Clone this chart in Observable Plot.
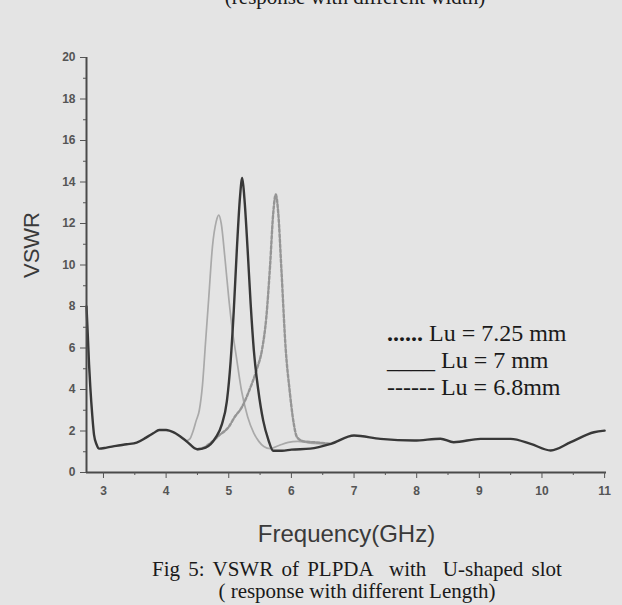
<!DOCTYPE html>
<html><head><meta charset="utf-8">
<script src="https://cdn.jsdelivr.net/npm/d3@7"></script>
<script src="https://cdn.jsdelivr.net/npm/@observablehq/plot@0.6"></script>
<style>
body{margin:0;background:#e4e4e4;}
#wrap{position:relative;width:622px;height:605px;overflow:hidden;background:#e4e4e4;}
.serif{font-family:"Liberation Serif","Times New Roman",serif;color:#1a1a1a;}
#toptitle{position:absolute;top:-13px;left:0;width:622px;padding-left:88px;box-sizing:border-box;text-align:center;font-size:21px;line-height:21px;white-space:pre;}
#legend{position:absolute;left:387px;top:320px;font-size:24px;line-height:27px;white-space:pre;}
#caption{font-size:21px;line-height:22px;text-align:center;padding-left:92px;white-space:pre;margin-top:-2px;}
#caption div:first-child{word-spacing:3px;}
#chart svg{display:block;}
</style></head>
<body>
<div id="wrap">
  <div id="toptitle" class="serif">(response with different width)</div>
  <div id="chart"></div>
  <div id="caption" class="serif"></div>
  <div id="legend" class="serif"></div>
</div>
<script>
// ---- data ----
const xLabel = "Frequency(GHz)";
const yLabel = "VSWR";
const xDomain = [2.729, 11.03];
const yDomain = [0, 20];
const xMajor = [3, 4, 5, 6, 7, 8, 9, 10, 11];
const xMinor = [3.5, 4.5, 5.5, 6.5, 7.5, 8.5, 9.5, 10.5];
const yMajor = [0, 2, 4, 6, 8, 10, 12, 14, 16, 18, 20];
const yMinor = [1, 3, 5, 7, 9, 11, 13, 15, 17, 19];

const legendLabels = ["...... Lu = 7.25 mm", "____ Lu = 7 mm", "------ Lu = 6.8mm"];
const captionLines = ["Fig 5: VSWR of PLPDA  with  U-shaped slot", "( response with different Length)"];

// Lu = 7 mm (dark solid)
const freq7 = [2.729, 2.75, 2.77, 2.79, 2.82, 2.85, 2.89, 2.93, 3.05, 3.2, 3.37, 3.53, 3.68, 3.8, 3.89, 4.0, 4.13, 4.32, 4.5, 4.63, 4.79, 4.89, 4.97, 5.03, 5.08, 5.13, 5.18, 5.215, 5.25, 5.3, 5.35, 5.4, 5.47, 5.55, 5.63, 5.71, 5.85, 6.0, 6.3, 6.63, 7.0, 7.42, 7.96, 8.38, 8.59, 9.02, 9.5, 9.82, 10.14, 10.46, 10.83, 11.0];
const vswr7 = [8.0, 6.6, 5.2, 4.1, 2.8, 1.8, 1.35, 1.15, 1.2, 1.28, 1.36, 1.44, 1.68, 1.9, 2.05, 2.05, 1.92, 1.52, 1.12, 1.2, 1.68, 2.32, 3.44, 5.36, 7.8, 10.8, 13.3, 14.2, 13.2, 10.8, 8.1, 5.9, 4.0, 2.5, 1.6, 1.05, 1.05, 1.1, 1.15, 1.38, 1.78, 1.62, 1.54, 1.63, 1.46, 1.62, 1.62, 1.38, 1.06, 1.46, 1.94, 2.02];

// Lu = 7.25 mm (light grey)
const freq725 = [4.32, 4.38, 4.42, 4.48, 4.53, 4.58, 4.63, 4.68, 4.74, 4.8, 4.84, 4.88, 4.94, 5.0, 5.06, 5.12, 5.2, 5.3, 5.4, 5.48, 5.56, 5.66, 5.8, 5.95, 6.1, 6.3, 6.63];
const vswr725 = [1.52, 1.62, 1.9, 2.5, 3.0, 4.2, 6.3, 8.4, 10.9, 12.1, 12.4, 12.0, 10.3, 8.4, 6.8, 5.6, 4.0, 2.7, 1.9, 1.5, 1.25, 1.15, 1.3, 1.45, 1.5, 1.42, 1.38];

// Lu = 6.8 mm (grey dashed)
const freq68 = [4.5, 4.6, 4.7, 4.85, 5.0, 5.1, 5.2, 5.32, 5.45, 5.53, 5.6, 5.66, 5.71, 5.75, 5.79, 5.84, 5.91, 5.97, 6.03, 6.09, 6.2, 6.4, 6.63];
const vswr68 = [1.12, 1.2, 1.4, 1.8, 2.2, 2.7, 3.1, 3.9, 5.0, 5.9, 7.5, 10.0, 12.5, 13.4, 12.5, 9.8, 5.9, 4.0, 2.5, 1.7, 1.5, 1.45, 1.38];

const toRows = (fs, vs) => fs.map((f, i) => ({f, v: vs[i]}));
const s7 = toRows(freq7, vswr7);
const s725 = toRows(freq725, vswr725);
const s68 = toRows(freq68, vswr68);

const axisColor = "#4a4a4a";
const tickFont = {fontSize: 12, fontWeight: "bold", color: "#555"};

const chart = Plot.plot({
  width: 622,
  height: 560,
  marginLeft: 86,
  marginRight: 16,
  marginTop: 57,
  marginBottom: 88,
  style: {background: "transparent", fontFamily: "'Liberation Sans', Arial, sans-serif", overflow: "visible"},
  x: {domain: xDomain, label: null},
  y: {domain: yDomain, label: null},
  marks: [
    Plot.line(s725, {x: "f", y: "v", curve: "monotone-x", stroke: "#a9a9a9", strokeWidth: 1.7}),
    Plot.line(s68, {x: "f", y: "v", curve: "monotone-x", stroke: "#959595", strokeWidth: 2.4, strokeDasharray: "3,2"}),
    Plot.line(s7, {x: "f", y: "v", curve: "monotone-x", stroke: "#383838", strokeWidth: 2.4}),
    Plot.ruleX([xDomain[0]], {stroke: axisColor, strokeWidth: 2}),
    Plot.ruleY([yDomain[0]], {stroke: axisColor, strokeWidth: 2}),
    Plot.axisY(yMajor, {tickSize: 6, tickPadding: 5, label: null, ...tickFont}),
    Plot.axisY(yMinor, {tickSize: 3, tickFormat: () => "", label: null, color: "#555"}),
    Plot.axisX(xMajor, {tickSize: 6, tickPadding: 8, label: null, ...tickFont}),
    Plot.axisX(xMinor, {tickSize: 3, tickFormat: () => "", label: null, color: "#555"}),
    Plot.text([xLabel], {text: d => d, frameAnchor: "bottom", lineAnchor: "middle", dy: 62, fontSize: 24, fill: "#3a3a3a"}),
    Plot.text([yLabel], {text: d => d, frameAnchor: "left", textAnchor: "middle", lineAnchor: "middle", rotate: -90, dx: -55, dy: -20, fontSize: 22, fill: "#3a3a3a"})
  ]
});
document.getElementById("chart").appendChild(chart);

document.getElementById("caption").innerHTML = captionLines.map(t => `<div>${t}</div>`).join("");
document.getElementById("legend").innerHTML = legendLabels.map((t, i) =>
  i === 0 ? `<div><b>${t.slice(0, 6)}</b>${t.slice(6)}</div>` : `<div>${t}</div>`).join("");
</script>
</body></html>
